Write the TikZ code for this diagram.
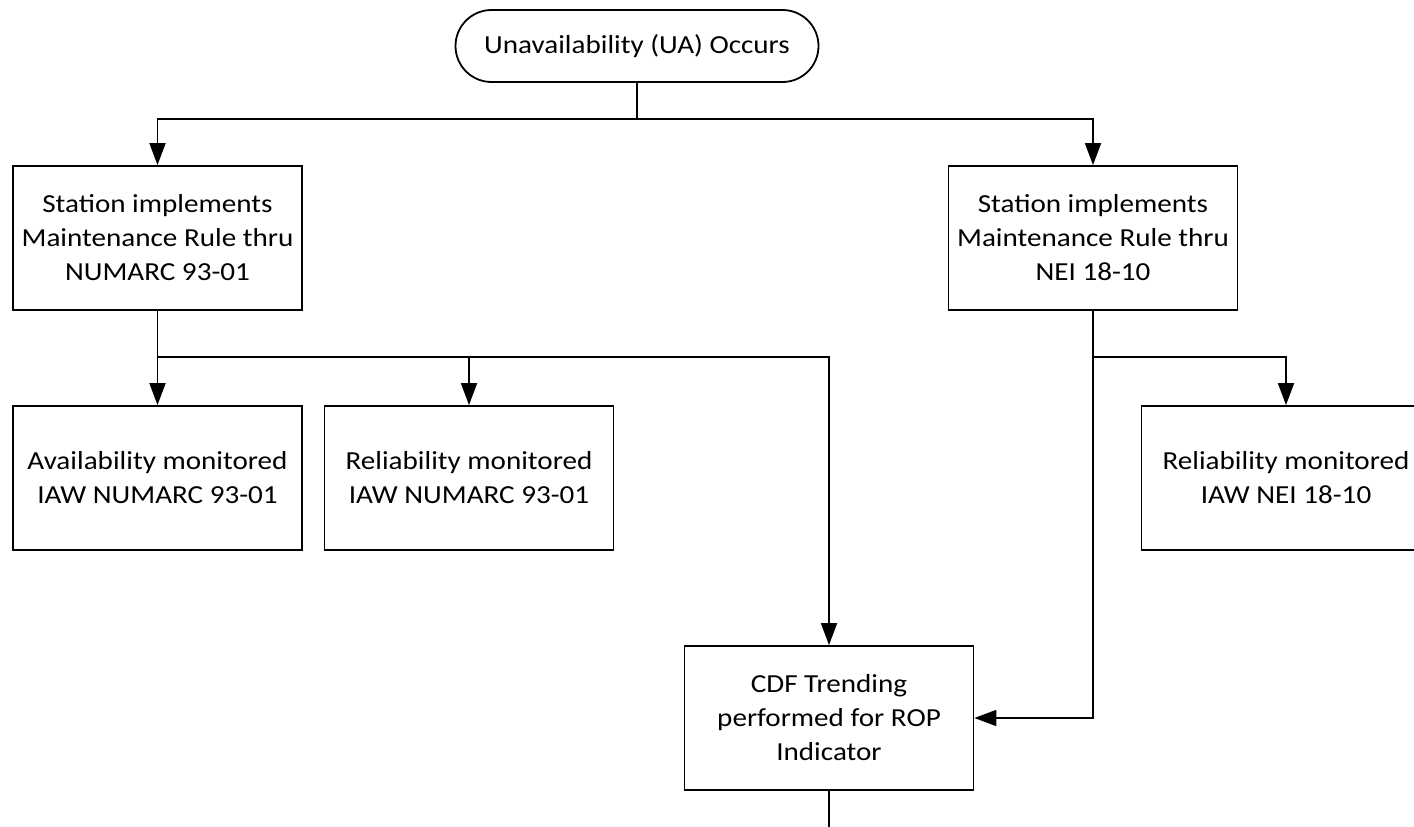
\documentclass[tikz,border=0pt]{standalone}
\usepackage{fontspec}
\setmainfont{Carlito}[FakeStretch=1.12]
\usetikzlibrary{arrows.meta}
\begin{document}
\begin{tikzpicture}[x=1pt,y=-1pt,
  box/.style={draw, line width=1.8pt, minimum width=289pt, minimum height=144pt,
    align=center, inner sep=0pt, font=\fontsize{26}{34}\selectfont},
  term/.style={draw, line width=1.8pt, minimum width=363pt, minimum height=72pt,
    rounded corners=36pt, inner sep=0pt, font=\fontsize{26}{34}\selectfont},
  line/.style={line width=1.8pt},
  arr/.style={line width=1.8pt, -{Triangle[length=22pt,width=16pt]}}]
\useasboundingbox (0,0) rectangle (1414,827);
\node[term] (ua) at (637,46) {Unavailability (UA) Occurs};
\node[box] (s1) at (157.5,238) {Station implements\\Maintenance Rule thru\\NUMARC 93-01};
\node[box] (s2) at (1093,238) {Station implements\\Maintenance Rule thru\\NEI 18-10};
\node[box] (av) at (157.5,478) {Availability monitored\\IAW NUMARC 93-01};
\node[box] (rl) at (469,478) {Reliability monitored\\IAW NUMARC 93-01};
\node[box] (rn) at (1286,478) {Reliability monitored\\IAW NEI 18-10};
\node[box] (cdf) at (829,718) {CDF Trending\\performed for ROP\\Indicator};
\coordinate (j1) at (637,119);
\coordinate (j2) at (157.5,357);
\coordinate (j3) at (1093,357);
\coordinate (bot) at (829,830);
\draw[line] (ua.south) -- (j1);
\draw[arr] (j1) -| (s1.north);
\draw[arr] (j1) -| (s2.north);
\draw[line] (s1.south) -- (j2);
\draw[arr] (j2) -- (av.north);
\draw[arr] (j2) -| (rl.north);
\draw[arr] (j2) -| (cdf.north);
\draw[line] (s2.south) -- (j3);
\draw[arr] (j3) -| (rn.north);
\draw[arr] (j3) |- (cdf.east);
\draw[line] (cdf.south) -- (bot);
\end{tikzpicture}
\end{document}
